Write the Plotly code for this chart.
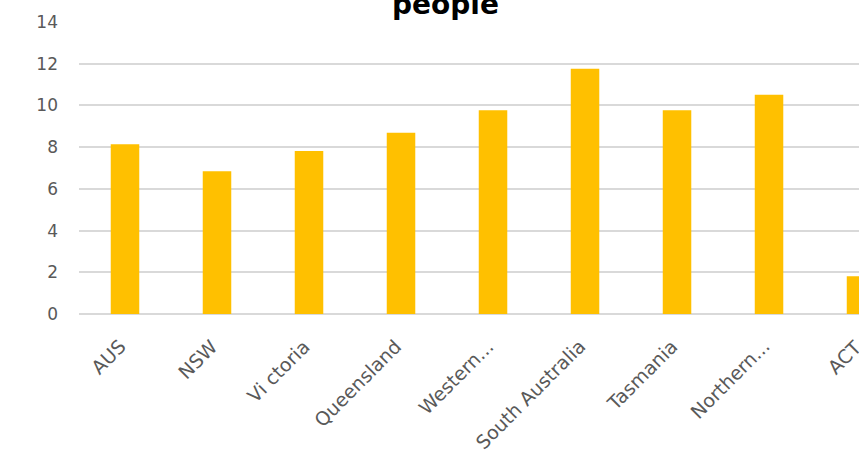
import plotly.graph_objects as go

categories = ["AUS", "NSW", "Vi ctoria", "Queensland", "Western...",
              "South Australia", "Tasmania", "Northern...", "ACT"]
values = [8.14, 6.85, 7.82, 8.69, 9.77, 11.76, 9.77, 10.51, 1.81]
y_ticks = [0, 2, 4, 6, 8, 10, 12, 14]
title_text = "people"

FONT = "DejaVu Sans, Liberation Sans, Arial"
GREY = "#595959"

x_pos = list(range(len(categories)))
x_range = [-0.5, 7.978]

fig = go.Figure()
fig.add_trace(go.Bar(
    x=x_pos,
    y=values,
    width=0.31,
    marker=dict(color="#FFC000", line=dict(width=0)),
    hoverinfo="skip",
))

# category labels drawn as rotated annotations (paper coords, mapped from the
# category axis range) so the last, clipped category still shows its label
def to_paper(v):
    return (v - x_range[0]) / (x_range[1] - x_range[0])

label_annotations = [
    dict(
        text=cat, x=to_paper(xi), y=0, xref="paper", yref="paper",
        xanchor="right", yanchor="top",
        textangle=-45, showarrow=False,
        xshift=6, yshift=-20, borderpad=0,
        font=dict(family=FONT, size=19, color=GREY),
    )
    for xi, cat in zip(x_pos, categories)
]

fig.update_layout(
    width=859, height=453,
    margin=dict(l=79, r=0, t=22, b=139, pad=0),
    paper_bgcolor="white", plot_bgcolor="white",
    showlegend=False,
    font=dict(family=FONT, color=GREY, size=17),
    xaxis=dict(
        range=x_range,
        showticklabels=False,
        showgrid=False,
        zeroline=False,
        showline=False,
        ticks="",
    ),
    yaxis=dict(
        range=[0, 14],
        tickmode="array",
        tickvals=y_ticks,
        showgrid=True,
        gridcolor="#D9D9D9",
        gridwidth=1.6,
        zeroline=True,
        zerolinecolor="#D9D9D9",
        zerolinewidth=1.8,
        showline=False,
        ticks="",
        ticklabelstandoff=20,
        tickfont=dict(family=FONT, size=17, color=GREY),
    ),
    annotations=[dict(
        text="<b>" + title_text + "</b>",
        xref="paper", yref="paper",
        x=(445 - 79) / 780, y=1,
        xanchor="center", yanchor="bottom",
        yshift=-1,
        showarrow=False,
        font=dict(family=FONT, size=28, color="#000000"),
    )] + label_annotations,
)

fig.write_html("out.html")
